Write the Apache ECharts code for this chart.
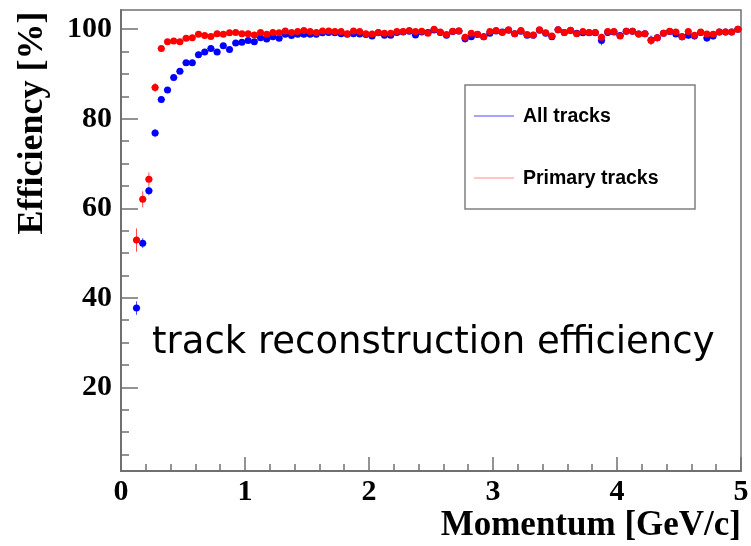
<!DOCTYPE html>
<html>
<head>
<meta charset="utf-8">
<script src="https://cdn.jsdelivr.net/npm/echarts@6/dist/echarts.min.js"></script>
<style>
  html, body { margin: 0; padding: 0; background: #fff; }
  #chart { width: 751px; height: 546px; }
</style>
</head>
<body>
<div id="chart"></div>
<script>
// bin centres [GeV/c], 0.05 wide bins
let momentum = [0.125,0.175,0.225,0.275,0.325,0.375,0.425,0.475,0.525,0.575,0.625,0.675,0.725,0.775,0.825,0.875,0.925,0.975,
    1.025,1.075,1.125,1.175,1.225,1.275,1.325,1.375,1.425,1.475,1.525,1.575,1.625,1.675,1.725,1.775,1.825,1.875,1.925,1.975,
    2.025,2.075,2.125,2.175,2.225,2.275,2.325,2.375,2.425,2.475,2.525,2.575,2.625,2.675,2.725,2.775,2.825,2.875,2.925,2.975,
    3.025,3.075,3.125,3.175,3.225,3.275,3.325,3.375,3.425,3.475,3.525,3.575,3.625,3.675,3.725,3.775,3.825,3.875,3.925,3.975,
    4.025,4.075,4.125,4.175,4.225,4.275,4.325,4.375,4.425,4.475,4.525,4.575,4.625,4.675,4.725,4.775,4.825,4.875,4.925,4.975]

let allTracks = [37.7,52.2,63.9,76.8,84.3,86.4,89.2,90.6,92.5,92.5,
    94.3,94.9,95.7,94.9,96.3,95.5,96.9,97.1,97.5,97.2,
    98.1,97.8,98.3,98.0,98.9,98.6,98.9,98.9,98.9,98.9,
    99.2,99.3,99.2,99.0,98.9,99.0,98.95,98.8,98.5,99.2,
    98.65,98.65,99.25,99.4,99.55,98.7,99.4,99.25,99.85,99.3,
    98.65,99.5,99.6,97.9,98.3,98.8,98.35,99.1,99.6,99.4,
    99.8,99.0,99.55,98.65,98.65,99.8,99.1,98.35,99.9,99.25,
    99.7,99.1,99.2,99.2,99.2,97.5,99.3,99.4,98.6,99.55,
    99.55,98.95,99.0,97.6,98.1,99.1,99.5,98.95,98.3,98.65,
    98.5,99.3,98.05,98.5,99.4,99.4,99.4,100.0]
let allErr = [1.5,1.1,1.0,0.9,0.7,0.6,0.6,0.6,0.5,0.5,
    0.5,0.5,0.5,0.5,0.5,0.5,0.5,0.5,0.5,0.5,
    0.5,0.5,0.5,0.5,0.5,0.5,0.5,0.5,0.5,0.5,
    0.5,0.5,0.5,0.5,0.5,0.5,0.5,0.5,0.6,0.5,
    0.6,0.6,0.5,0.5,0.5,0.6,0.5,0.5,0.5,0.5,
    0.6,0.5,0.5,0.9,0.7,0.6,0.7,0.6,0.5,0.5,
    0.5,0.6,0.5,0.6,0.6,0.5,0.6,0.7,0.5,0.6,
    0.5,0.6,0.6,0.6,0.6,1.1,0.6,0.6,0.7,0.6,
    0.6,0.6,0.6,1.0,0.8,0.6,0.6,0.6,0.8,0.8,
    0.8,0.6,0.9,0.8,0.6,0.6,0.6,0.5]

let primaryTracks = [52.9,62.0,66.5,87.0,95.7,97.2,97.4,97.2,98.0,98.1,
    98.9,98.6,98.4,99.0,98.9,99.2,99.3,99.0,99.0,98.7,
    99.3,98.9,99.3,99.2,99.6,99.3,99.5,99.7,99.5,99.3,
    99.6,99.6,99.5,99.5,99.0,99.6,99.5,99.0,98.95,99.3,
    99.1,99.1,99.5,99.5,99.7,99.5,99.55,99.1,100.0,99.4,
    98.8,99.55,99.6,98.2,99.1,98.9,98.35,99.5,99.7,99.25,
    99.9,99.0,99.7,98.8,98.7,99.9,99.2,98.5,99.9,99.3,
    99.8,99.0,99.5,99.25,99.25,98.2,99.5,99.5,98.5,99.55,
    99.55,98.95,99.0,97.5,98.1,99.1,99.55,99.4,98.3,99.5,
    98.65,99.4,98.95,98.9,99.4,99.4,99.4,100.0]
let primaryErr = [2.6,1.8,1.5,1.0,0.6,0.5,0.5,0.5,0.5,0.5,
    0.5,0.5,0.5,0.5,0.5,0.5,0.5,0.5,0.5,0.5,
    0.5,0.5,0.5,0.5,0.5,0.5,0.5,0.5,0.5,0.5,
    0.5,0.5,0.5,0.5,0.5,0.5,0.5,0.5,0.5,0.5,
    0.5,0.5,0.5,0.5,0.5,0.5,0.5,0.5,0.5,0.5,
    0.6,0.5,0.5,0.8,0.6,0.6,0.7,0.5,0.5,0.5,
    0.5,0.5,0.5,0.6,0.6,0.5,0.5,0.7,0.5,0.5,
    0.5,0.5,0.5,0.5,0.5,0.8,0.5,0.5,0.7,0.5,
    0.5,0.5,0.5,1.0,0.8,0.5,0.5,0.5,0.7,0.5,
    0.6,0.5,0.6,0.6,0.5,0.5,0.5,0.5]

let yMajor = [20, 40, 60, 80, 100]
let yMinor = [5, 10, 15, 25, 30, 35, 45, 50, 55, 65, 70, 75, 85, 90, 95]

let frameColor = '#707070'
let blue = '#0000ff'
let red = '#ff0000'

function points(vals, errs) {
    return momentum.map(function (m, i) { return [m, vals[i], errs[i]] })
}

function errorBars(color) {
    return function (params, api) {
        let x = api.value(0), y = api.value(1), e = api.value(2)
        let top = api.coord([x, y + e])
        let bot = api.coord([x, y - e])
        let l = api.coord([x - 0.03, y])
        let r = api.coord([x + 0.03, y])
        return {
            type: 'group',
            children: [
                { type: 'line', shape: { x1: top[0], y1: top[1], x2: bot[0], y2: bot[1] }, style: { stroke: color, lineWidth: 1, opacity: 0.7 } },
                { type: 'line', shape: { x1: l[0], y1: l[1], x2: r[0], y2: r[1] }, style: { stroke: color, lineWidth: 1, opacity: 0.7 } }
            ]
        }
    }
}

let chart = echarts.init(document.querySelector('#chart'))
let option = {
    backgroundColor: '#fff',
    animation: false,
    grid: {
        left: 121, right: 10, top: 10, bottom: 75,
        outerBoundsMode: 'none',
        show: true, borderColor: frameColor, borderWidth: 1.5, backgroundColor: 'transparent'
    },
    xAxis: {
        type: 'value',
        min: 0, max: 5, interval: 1,
        name: 'Momentum [GeV/c]',
        nameLocation: 'end',
        nameGap: 0,
        nameTextStyle: {
            fontFamily: 'Liberation Serif', fontWeight: 'bold', fontSize: 35, color: '#000',
            align: 'right', verticalAlign: 'top', padding: [37, 0, 0, 0]
        },
        axisLine: { lineStyle: { color: frameColor, width: 2 } },
        axisTick: { inside: true, length: 14, lineStyle: { color: frameColor, width: 1.5 } },
        minorTick: { show: true, splitNumber: 5, length: 7, lineStyle: { color: frameColor, width: 1.5 } },
        axisLabel: { margin: 6, fontFamily: 'Liberation Serif', fontWeight: 'bold', fontSize: 30, color: '#000' },
        splitLine: { show: false }
    },
    yAxis: [{
        type: 'value',
        min: 1.3, max: 104.3,
        axisLine: { show: true, lineStyle: { color: frameColor, width: 2 } },
        axisTick: { show: true, inside: true, length: 17, customValues: yMajor, lineStyle: { color: frameColor, width: 1.5 } },
        axisLabel: { customValues: yMajor, margin: 9, fontFamily: 'Liberation Serif', fontWeight: 'bold', fontSize: 30, color: '#000' },
        splitLine: { show: false }
    }, {
        type: 'value',
        position: 'left',
        min: 1.3, max: 104.3,
        axisLine: { show: false },
        axisTick: { show: true, inside: true, length: 8, customValues: yMinor, lineStyle: { color: frameColor, width: 1.5 } },
        axisLabel: { show: false },
        splitLine: { show: false }
    }],
    graphic: [
        {
            type: 'text', x: 33, y: 123, rotation: Math.PI / 2,
            style: {
                text: 'Efficiency [%]', align: 'center', verticalAlign: 'middle',
                font: 'bold 36px "Liberation Serif"', fill: '#000'
            }
        },
        {
            type: 'text', left: 152, top: 325,
            style: { text: 'track reconstruction efficiency', font: '37px "DejaVu Sans"', fill: '#000' }
        },
        {
            type: 'rect', shape: { x: 465, y: 85, width: 230, height: 124 },
            style: { fill: '#fff', stroke: '#808080', lineWidth: 1.5 }
        },
        { type: 'line', shape: { x1: 474, y1: 116, x2: 514, y2: 116 }, style: { stroke: blue, lineWidth: 1, opacity: 0.7 } },
        { type: 'line', shape: { x1: 474, y1: 178, x2: 514, y2: 178 }, style: { stroke: red, lineWidth: 1, opacity: 0.45 } },
        {
            type: 'text', x: 523, y: 117,
            style: { text: 'All tracks', verticalAlign: 'middle', font: 'bold 19.5px "Liberation Sans"', fill: '#000' }
        },
        {
            type: 'text', x: 523, y: 179,
            style: { text: 'Primary tracks', verticalAlign: 'middle', font: 'bold 19.5px "Liberation Sans"', fill: '#000' }
        }
    ],
    series: [
        {
            name: 'All tracks err', type: 'custom', renderItem: errorBars(blue),
            encode: { x: 0, y: 1 }, data: points(allTracks, allErr), z: 2
        },
        {
            name: 'All tracks', type: 'scatter', symbol: 'circle', symbolSize: 7,
            itemStyle: { color: blue, opacity: 1 }, data: points(allTracks, allErr), z: 3
        },
        {
            name: 'Primary tracks err', type: 'custom', renderItem: errorBars(red),
            encode: { x: 0, y: 1 }, data: points(primaryTracks, primaryErr), z: 4
        },
        {
            name: 'Primary tracks', type: 'scatter', symbol: 'circle', symbolSize: 7,
            itemStyle: { color: red, opacity: 1 }, data: points(primaryTracks, primaryErr), z: 5
        }
    ]
}
chart.setOption(option)
</script>
</body>
</html>
